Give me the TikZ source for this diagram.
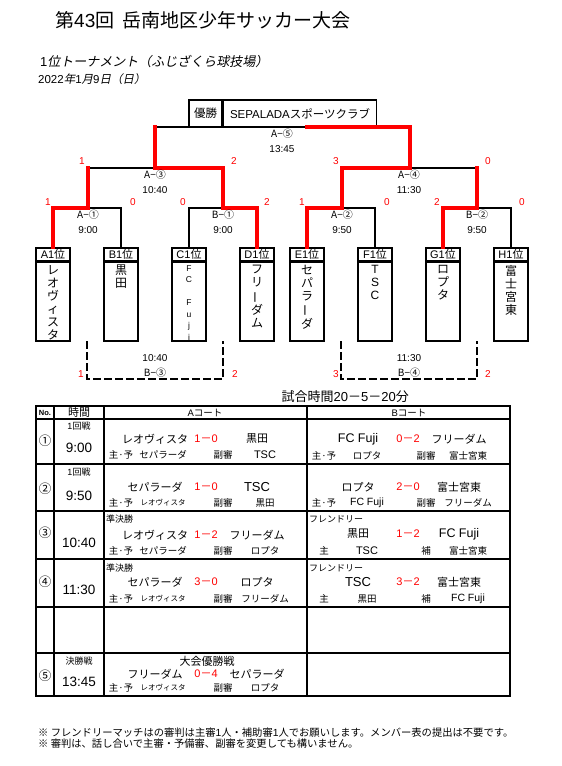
\documentclass[tikz,border=0pt]{standalone}
\usepackage{fontspec}
\setmainfont{Noto Sans CJK JP}
\newfontfamily\lat{Liberation Sans}
\newfontfamily\jpit[FakeSlant=0.2]{Noto Sans CJK JP}
\usetikzlibrary{positioning}

\newcommand{\fsz}[1]{\fontsize{#1}{#1}\selectfont}
\newcommand{\vname}[1]{\parbox[c][72pt][t]{16pt}{\centering #1}}
\newcommand{\tate}{\rotatebox[origin=c]{90}{ー}}

\begin{document}
\begin{tikzpicture}[
x=1pt, y=-1pt,
    win/.style={draw=red, line width=3.5pt, line cap=rect},
    lose/.style={draw, line width=1.8pt},
    consol/.style={draw, line width=1.6pt, dash pattern=on 8pt off 3pt},
    box/.style={draw, line width=1.6pt, inner sep=0pt, minimum height=27pt, font=\fsz{11.5}},
    tag/.style={draw, line width=1.5pt, inner sep=0pt, minimum width=34pt, minimum height=13pt, font=\fsz{11}},
    team/.style={draw, line width=1.5pt, inner sep=0pt, minimum width=34pt, minimum height=79pt, anchor=north, font=\fontsize{12}{13}\selectfont},
    score/.style={text=red, inner sep=0pt, font=\lat\fsz{10}},
    game/.style={align=center, inner sep=0pt, font=\fontsize{10}{15}\selectfont},
    rule/.style={draw, line width=1.7pt},
    hdr/.style={inner sep=0pt, font=\fsz{9.5}},
    idx/.style={inner sep=0pt, font=\fsz{12.5}},
    clock/.style={inner sep=0pt, font=\lat\fsz{13.5}},
    rnd/.style={inner sep=0pt, font=\fsz{9}},
    cell/.style={inner sep=0pt, font=\fsz{11}},
    res/.style={cell, text=red},
    ump/.style={inner sep=0pt, font=\fsz{9.5}}
]
\useasboundingbox (0,0) rectangle (562,766);

    % Titles
    \node[anchor=west, inner sep=0pt, font=\fsz{19}] (title) at (55,20) {第{\lat 43}回\ \ 岳南地区少年サッカー大会};
    \node[anchor=west, inner sep=0pt, font=\jpit\fsz{13}] (sub) at (40,62) {{\lat 1}位トーナメント（ふじざくら球技場）};
    \node[anchor=west, inner sep=0pt, font=\jpit\fsz{11.5}] (date) at (38,79) {{\lat 2022}年{\lat 1}月{\lat 9}日（日）};

    % Winner
    \node[box, minimum width=33pt] (champ) at (205.5,113.5) {優勝};
    \node[box, minimum width=153pt, right=0pt of champ] (champname) {{\lat SEPALADA}スポーツクラブ};

    % Teams
    \foreach \id/\lbl/\x/\nm in {
        a1/A1/53/{レ\\オ\\ヴ\\ィ\\ス\\タ},
        b1/B1/121/{黒\\田},
        c1/C1/189/{\lat\fontsize{8.5}{11.5}\selectfont F\\C\\~\\F\\u\\j\\i},
        d1/D1/257/{フ\\リ\\\tate\\ダ\\ム},
        e1/E1/307/{セ\\パ\\ラ\\\tate\\ダ},
        f1/F1/375/{\lat T\\S\\C},
        g1/G1/443/{ロ\\プ\\タ},
        h1/H1/511/{富\\士\\宮\\東}}
    {
        \node[tag] (h\id) at (\x,254.5) {{\lat\lbl}位};
        \node[team] (\id) at (\x,261) {\vname{\nm}};
    }

    % Bracket points
    \coordinate (m1) at (88,208);
    \coordinate (m2) at (223,208);
    \coordinate (m3) at (342,208);
    \coordinate (m4) at (477,208);
    \coordinate (s1) at (155,168);
    \coordinate (s2) at (410,168);
    \coordinate (fin) at (307,127);

    % Losing paths
    \draw[lose] (hb1.north) |- (m1);
    \draw[lose] (m1 |- s1) -- (s1);
    \draw[lose] (hc1.north) |- (m2);
    \draw[lose] (s1 |- fin) -- (fin);
    \draw[lose] (hf1.north) |- (m3);
    \draw[lose] (s2) -- (m4 |- s2);
    \draw[lose] (hh1.north) |- (m4);

    % Winning paths
    \draw[win] (ha1.north) |- (m1) -- (m1 |- s1);
    \draw[win] (hd1.north) |- (m2) -- (m2 |- s1) -- (s1) -- (s1 |- fin);
    \draw[win] (fin) -| (s2);
    \draw[win] (he1.north) |- (m3) -- (m3 |- s2) -- (s2);
    \draw[win] (hg1.north) |- (m4) -- (m4 |- s2);

    % Games
    \node[game] (g5) at (282,141) {A−⑤\\{\lat 13:45}};
    \node[game] (g3) at (155,181.5) {A−③\\{\lat 10:40}};
    \node[game] (g4) at (409,181.5) {A−④\\{\lat 11:30}};
    \node[game] (g1) at (88,221.5) {A−①\\{\lat 9:00}};
    \node[game] (g2) at (223,221.5) {B−①\\{\lat 9:00}};
    \node[game] (g6) at (342,221.5) {A−②\\{\lat 9:50}};
    \node[game] (g7) at (477,221.5) {B−②\\{\lat 9:50}};

    % Friendly brackets
    \coordinate (c3) at (87,341);
    \coordinate (c3e) at (223,341);
    \coordinate (c4) at (341,341);
    \coordinate (c4e) at (477,341);
    \draw[consol] (c3) -- ++(0,38) -| (c3e);
    \draw[consol] (c4) -- ++(0,38) -| (c4e);
    \node[game] (g8) at (155,366) {{\lat 10:40}\\B−③};
    \node[game] (g9) at (409,366) {{\lat 11:30}\\B−④};

    % Scores
    \foreach \t/\x/\y [count=\k] in {1/48/202, 0/133/202, 0/183/202, 2/267/202,
        1/302/202, 0/387/202, 2/437/202, 0/522/202, 1/82/161, 2/234/161,
        3/336/161, 0/488/161, 1/81/374, 2/235/374, 3/336/374, 2/488/374}
        \node[score] (sc\k) at (\x,\y) {\t};

    % Schedule table
    \node[anchor=east, inner sep=0pt, font=\fsz{13}] (dur) at (409,397) {試合時間{\lat 20}－{\lat 5}－{\lat 20}分};
    \draw[rule] (36,406) rectangle (510,696);
    \foreach \x in {54,104,307} \draw[rule] (\x,406) -- (\x,696);
    \foreach \y in {419,464,511,559,607,653} \draw[rule] (36,\y) -- (510,\y);

    \node[hdr, font=\lat\bfseries\fsz{7.5}] (colno) at (45,412.5) {No.};
    \node[hdr, font=\fsz{11}] (coltime) at (79,412.5) {時間};
    \node[hdr] (colA) at (205,412.5) {{\lat A}コート};
    \node[hdr] (colB) at (409,412.5) {{\lat B}コート};

    \foreach \r/\y/\yt/\nb/\tm in {1/441/448/①/9:00, 2/489/496/②/9:50,
        3/533/543/③/10:40, 4/582/590/④/11:30, 5/676/682/⑤/13:45}
    {
        \node[idx] (n\r) at (45,\y) {\nb};
        \node[clock] (t\r) at (79,\yt) {\tm};
    }

    \node[rnd] (k1) at (79,426) {{\lat 1}回戦};
    \node[rnd] (k2) at (79,472) {{\lat 1}回戦};
    \node[rnd, anchor=west] (k3) at (106,519) {準決勝};
    \node[rnd, anchor=west] (k4) at (106,568) {準決勝};
    \node[rnd] (k5) at (79,661) {決勝戦};
    \node[rnd, anchor=west] (fr3) at (309,519) {フレンドリー};
    \node[rnd, anchor=west] (fr4) at (309,568) {フレンドリー};
    \node[cell] (cup) at (207,661) {大会優勝戦};

    % A court
    \foreach \r/\y/\home/\pts/\away/\yr/\ua/\ub in {
        1/439/レオヴィスタ/{\lat 1}－{\lat 0}/黒田/455/セパラーダ/{\lat\fsz{11}TSC},
        2/487/セパラーダ/{\lat 1}－{\lat 0}/{\lat\fsz{13}TSC}/503/{\fsz{7.5}レオヴィスタ}/黒田,
        3/535/レオヴィスタ/{\lat 1}－{\lat 2}/フリーダム/551/セパラーダ/ロプタ,
        4/582/セパラーダ/{\lat 3}－{\lat 0}/ロプタ/599/{\fsz{7.5}レオヴィスタ}/フリーダム,
        5/674/フリーダム/{\lat 0}－{\lat 4}/セパラーダ/688/{\fsz{7.5}レオヴィスタ}/ロプタ}
    {
        \node[cell] (ah\r) at (155,\y) {\home};
        \node[res] (as\r) at (206,\y) {\pts};
        \node[cell] (aa\r) at (257,\y) {\away};
        \node[ump] (ar\r) at (121,\yr) {主·予};
        \node[ump] (am\r) at (163,\yr) {\ua};
        \node[ump] (ax\r) at (223,\yr) {副審};
        \node[ump] (an\r) at (265,\yr) {\ub};
    }

    % B court
    \foreach \r/\y/\home/\pts/\away/\yr/\ua/\ub/\ra/\rb in {
        1/439/{\lat\fsz{12.5}FC Fuji}/{\lat 0}－{\lat 2}/フリーダム/456/主·予/ロプタ/副審/富士宮東,
        2/487/ロプタ/{\lat 2}－{\lat 0}/富士宮東/503/主·予/{\lat\fsz{10.5}FC Fuji}/副審/フリーダム,
        3/534/黒田/{\lat 1}－{\lat 2}/{\lat\fsz{12.5}FC Fuji}/551/主/{\lat\fsz{11}TSC}/補/富士宮東,
        4/582/{\lat\fsz{13}TSC}/{\lat 3}－{\lat 2}/富士宮東/599/主/黒田/補/{\lat\fsz{10.5}FC Fuji}}
    {
        \node[cell] (bh\r) at (358,\y) {\home};
        \node[res] (bs\r) at (408,\y) {\pts};
        \node[cell] (ba\r) at (459,\y) {\away};
        \node[ump] (br\r) at (324,\yr) {\ua};
        \node[ump] (bm\r) at (367,\yr) {\ub};
        \node[ump] (bx\r) at (426,\yr) {\ra};
        \node[ump] (bn\r) at (468,\yr) {\rb};
    }

    % Notes
    \node[anchor=north west, align=left, inner sep=0pt, font=\fontsize{10.3}{11}\selectfont] (note) at (38,728) {※ フレンドリーマッチはの審判は主審{\lat 1}人・補助審{\lat 1}人でお願いします。メンバー表の提出は不要です。\\※ 審判は、話し合いで主審・予備審、副審を変更しても構いません。};

\end{tikzpicture}
\end{document}
